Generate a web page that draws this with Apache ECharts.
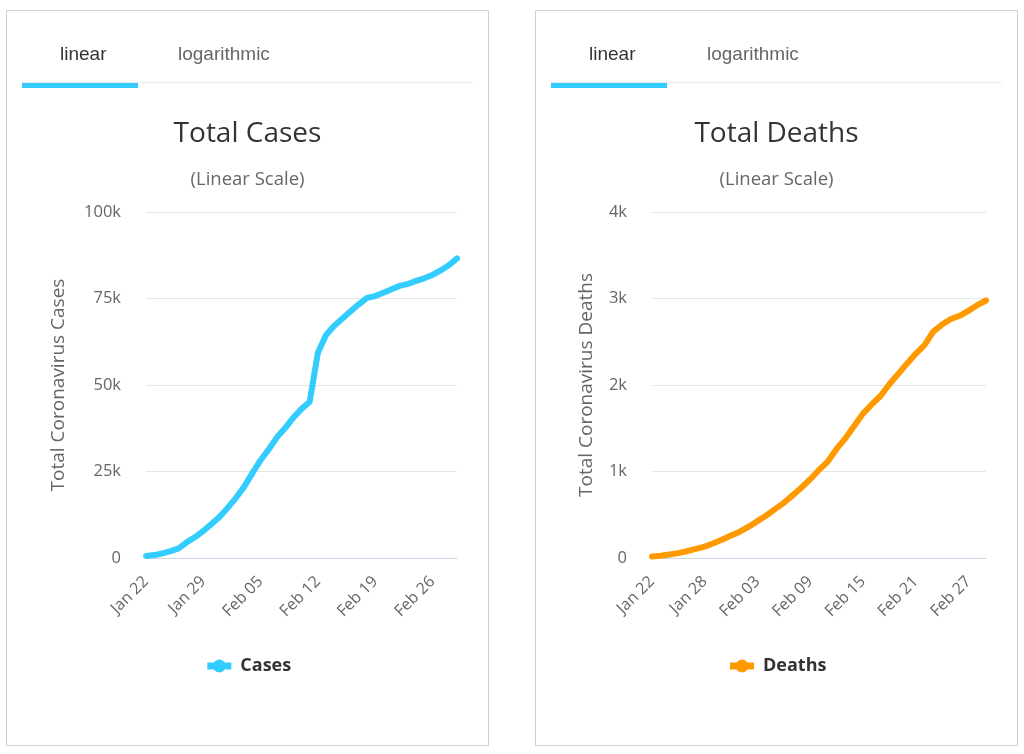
<!DOCTYPE html>
<html>
<head>
<meta charset="utf-8">
<script src="https://cdn.jsdelivr.net/npm/echarts@6/dist/echarts.min.js"></script>
<style>
  html, body { margin: 0; padding: 0; background: #fff; }
  .panel { position: absolute; top: 10px; width: 481px; height: 734px; border: 1px solid #cfcfcf; background: #fff; }
  #p1 { left: 6px; }
  #p2 { left: 535px; }
  .chart { position: absolute; left: 0; top: 0; width: 481px; height: 734px; }
  .tab { position: absolute; top: 32px; font: 19px "Liberation Sans", Arial, sans-serif; line-height: 22px; color: #666; }
  .tab.on { color: #333; }
  .tabline { position: absolute; left: 15px; top: 71px; width: 451px; height: 1px; background: #ececec; }
  .tabbar { position: absolute; left: 15px; top: 72px; width: 116px; height: 5px; background: #33ccff; }
</style>
</head>
<body>
<div class="panel" id="p1">
  <div class="chart" id="c1"></div>
  <span class="tab on" style="left:53px">linear</span>
  <span class="tab" style="left:171px">logarithmic</span>
  <div class="tabline"></div>
  <div class="tabbar"></div>
</div>
<div class="panel" id="p2">
  <div class="chart" id="c2"></div>
  <span class="tab on" style="left:53px">linear</span>
  <span class="tab" style="left:171px">logarithmic</span>
  <div class="tabline"></div>
  <div class="tabbar"></div>
</div>
<script>
// dates, Jan 22 - Feb 29
var dates = ['Jan 22','Jan 23','Jan 24','Jan 25','Jan 26','Jan 27','Jan 28','Jan 29','Jan 30','Jan 31',
  'Feb 01','Feb 02','Feb 03','Feb 04','Feb 05','Feb 06','Feb 07','Feb 08','Feb 09','Feb 10',
  'Feb 11','Feb 12','Feb 13','Feb 14','Feb 15','Feb 16','Feb 17','Feb 18','Feb 19','Feb 20',
  'Feb 21','Feb 22','Feb 23','Feb 24','Feb 25','Feb 26','Feb 27','Feb 28','Feb 29'];

// total cases
var cases = [580, 845, 1317, 2015, 2800, 4581, 6058, 7813, 9823, 11950,
  14553, 17391, 20630, 24545, 28266, 31439, 34876, 37552, 40553, 43099,
  45134, 59287, 64438, 67100, 69197, 71329, 73332, 75184, 75700, 76677,
  77673, 78651, 79205, 80087, 80828, 81820, 83112, 84615, 86604];

// total deaths
var deaths = [17, 25, 41, 56, 80, 106, 132, 170, 213, 259,
  304, 362, 426, 492, 565, 638, 724, 813, 910, 1018,
  1115, 1261, 1383, 1526, 1669, 1775, 1873, 2009, 2126, 2247,
  2360, 2460, 2618, 2699, 2763, 2800, 2858, 2923, 2977];

var FONT = '"Open Sans", sans-serif';

function kFmt(v){
  return v === 0 ? '0' : (v / 1000) + 'k';
}

function makeOption(cfg){
  return {
    animation: false,
    textStyle: { fontFamily: FONT },
    title: [
      { text: cfg.title, left: 'center', top: 104,
        textStyle: { fontFamily: FONT, fontSize: 28, fontWeight: 'normal', color: '#333' } },
      { text: '(Linear Scale)', left: 'center', top: 154,
        textStyle: { fontFamily: FONT, fontSize: 18.5, fontWeight: 'normal', color: '#666' } }
    ],
    legend: {
      left: 'center', top: 641,
      padding: [5, 9, 5, 5],
      itemWidth: 24, itemHeight: 16, itemGap: 10,
      lineStyle: { width: 7, cap: 'butt' },
      textStyle: { fontFamily: FONT, fontSize: 18, fontWeight: 'bold', color: '#333', padding: [0, 0, 0, 4] },
      data: [cfg.name]
    },
    grid: { left: cfg.gridLeft, right: 31, top: 201, bottom: 187 },
    xAxis: {
      type: 'category',
      data: dates,
      boundaryGap: false,
      axisLine: { lineStyle: { color: '#ccd6eb' } },
      axisTick: { show: false },
      axisLabel: { interval: cfg.labelStep, rotate: 45, margin: 21,
        fontFamily: FONT, fontSize: 16, color: '#666' }
    },
    yAxis: {
      type: 'value',
      min: 0, max: cfg.max, interval: cfg.step,
      name: cfg.yName, nameLocation: 'middle', nameGap: cfg.nameGap,
      nameTextStyle: { fontFamily: FONT, fontSize: 19, color: '#666' },
      axisLine: { show: false },
      axisTick: { show: false },
      splitLine: { lineStyle: { color: '#e6e6e6' } },
      axisLabel: { formatter: kFmt, margin: 25, fontFamily: FONT, fontSize: 16.5, color: '#666' }
    },
    series: [{
      name: cfg.name,
      type: 'line',
      data: cfg.data,
      symbol: 'circle',
      symbolSize: 12,
      showSymbol: false,
      color: cfg.color,
      lineStyle: { width: 6, color: cfg.color, cap: 'round', join: 'round' }
    }]
  };
}

var chart1 = echarts.init(document.getElementById('c1'));
chart1.setOption(makeOption({
  title: 'Total Cases', name: 'Cases', yName: 'Total Coronavirus Cases',
  data: cases, color: '#33ccff', max: 100000, step: 25000,
  gridLeft: 139, nameGap: 78, labelStep: 6
}));

var chart2 = echarts.init(document.getElementById('c2'));
chart2.setOption(makeOption({
  title: 'Total Deaths', name: 'Deaths', yName: 'Total Coronavirus Deaths',
  data: deaths, color: '#ff9900', max: 4000, step: 1000,
  gridLeft: 116, nameGap: 56, labelStep: 5
}));
</script>
</body>
</html>
